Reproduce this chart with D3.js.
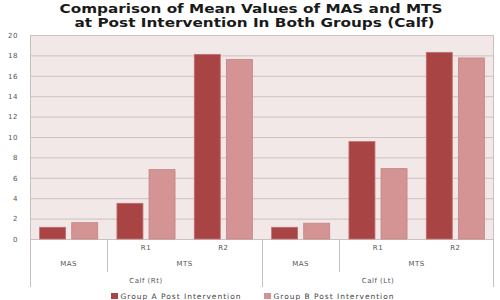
<!DOCTYPE html>
<html>
<head>
<meta charset="utf-8">
<script src="https://cdn.jsdelivr.net/npm/d3@7"></script>
<style>
  html, body { margin: 0; padding: 0; background: #fff; }
  text { font-family: "DejaVu Sans", Verdana, sans-serif; }
</style>
</head>
<body>
<div id="chart"></div>
<script>
// chart values
const categories = ["MAS", "R1", "R2", "MAS", "R1", "R2"];
const measureLabels = ["MAS", "MTS", "MAS", "MTS"];
const measureSpans = [[0, 1], [1, 3], [3, 4], [4, 6]];
const sideLabels = ["Calf (Rt)", "Calf (Lt)"];
const sideSpans = [[0, 3], [3, 6]];
const groupA = [1.15, 3.5, 18.1, 1.15, 9.55, 18.3];
const groupB = [1.6, 6.8, 17.6, 1.55, 6.9, 17.75];
const seriesNames = ["Group A Post Intervention", "Group B Post Intervention"];
const yTicks = [0, 2, 4, 6, 8, 10, 12, 14, 16, 18, 20];

const W = 500, H = 300;
const margin = { top: 35, right: 6, bottom: 61, left: 30 };
const width = W - margin.left - margin.right;
const height = H - margin.top - margin.bottom;

const colors = ["#a94444", "#d49494"];

const svgRoot = d3.select("#chart").append("svg")
  .attr("width", W).attr("height", H);

// title (two lines, stretched to the reference width)
const titleLines = [
  { text: "Comparison of Mean Values of MAS and MTS", x: 251, y: 13, len: 383 },
  { text: "at Post Intervention In Both Groups (Calf)", x: 254.5, y: 27, len: 360 }
];
svgRoot.append("g")
  .selectAll("text")
  .data(titleLines)
  .join("text")
  .attr("x", d => d.x).attr("y", d => d.y)
  .attr("text-anchor", "middle")
  .attr("font-size", 13)
  .attr("font-weight", "bold")
  .attr("fill", "#1a1a1a")
  .attr("textLength", d => d.len)
  .attr("lengthAdjust", "spacingAndGlyphs")
  .text(d => d.text);

const svg = svgRoot.append("g")
  .attr("transform", `translate(${margin.left},${margin.top})`);

const x0 = d3.scaleBand()
  .domain(d3.range(categories.length))
  .range([0, width])
  .padding(0);

const x1 = d3.scaleBand()
  .domain([0, 1])
  .range([0, x0.bandwidth()])
  .paddingInner(0.19)
  .paddingOuter(0.3);

const y = d3.scaleLinear().domain([0, 20]).range([height, 0]);

// plot background
svg.append("rect")
  .attr("width", width).attr("height", height)
  .attr("fill", "#f2e8e8");

// gridlines
svg.append("g")
  .selectAll("line")
  .data(yTicks)
  .join("line")
  .attr("x1", 0).attr("x2", width)
  .attr("y1", d => y(d) + 0.5).attr("y2", d => y(d) + 0.5)
  .attr("stroke", "#cdc1c1")
  .attr("stroke-width", 1);

// y axis labels
svg.append("g")
  .attr("class", "y-axis")
  .call(d3.axisLeft(y).tickValues(yTicks).tickSize(0).tickPadding(12))
  .call(g => g.select(".domain").remove())
  .call(g => g.selectAll("text")
    .attr("font-family", "DejaVu Sans, sans-serif")
    .attr("font-size", 7)
    .attr("letter-spacing", 0.5)
    .attr("fill", "#555"));

// bars
const rows = categories.map((c, i) => [groupA[i], groupB[i]]);
const groups = svg.selectAll(".cat")
  .data(rows)
  .join("g")
  .attr("class", "cat")
  .attr("transform", (d, i) => `translate(${x0(i)},0)`);

groups.selectAll("rect")
  .data(d => d.map((v, k) => ({ v, k })))
  .join("rect")
  .attr("x", d => x1(d.k))
  .attr("y", d => y(d.v))
  .attr("width", x1.bandwidth())
  .attr("height", d => height - y(d.v))
  .attr("fill", d => colors[d.k])
  .attr("stroke", d => d.k === 0 ? "#c07070" : "#c48282")
  .attr("stroke-width", 0.8);

// axis frame lines
const frame = svg.append("g").attr("stroke", "#c8c0c0").attr("stroke-width", 1);
frame.append("line")
  .attr("x1", 0.5).attr("x2", 0.5).attr("y1", 0).attr("y2", height + 48);
frame.append("line")
  .attr("x1", width - 0.5).attr("x2", width - 0.5).attr("y1", 0).attr("y2", height + 48);

// category separators in the axis area
measureSpans.forEach(s => {
  if (s[0] === 0 || s[0] === 3) return;
  frame.append("line")
    .attr("x1", Math.round(x0(s[0])) + 0.5).attr("x2", Math.round(x0(s[0])) + 0.5)
    .attr("y1", height).attr("y2", height + 33);
});
frame.append("line")
  .attr("x1", Math.round(x0(3)) + 0.5).attr("x2", Math.round(x0(3)) + 0.5)
  .attr("y1", height).attr("y2", height + 48);

const axisText = g => g
  .attr("text-anchor", "middle")
  .attr("font-size", 7)
  .attr("letter-spacing", 0.5)
  .attr("fill", "#555");

// level 1 labels (R1, R2)
svg.append("g")
  .selectAll("text")
  .data(categories.map((c, i) => ({ c, i })).filter(d => d.c !== "MAS"))
  .join("text")
  .attr("x", d => x0(d.i) + x0.bandwidth() / 2)
  .attr("y", height + 11)
  .call(axisText)
  .text(d => d.c);

// level 2 labels (MAS, MTS)
svg.append("g")
  .selectAll("text")
  .data(measureSpans)
  .join("text")
  .attr("x", d => (x0(d[0]) + x0(d[1] - 1) + x0.bandwidth()) / 2)
  .attr("y", height + 27)
  .call(axisText)
  .text((d, i) => measureLabels[i]);

// level 3 labels (Calf sides)
svg.append("g")
  .selectAll("text")
  .data(sideSpans)
  .join("text")
  .attr("x", d => (x0(d[0]) + x0(d[1] - 1) + x0.bandwidth()) / 2)
  .attr("y", height + 44)
  .call(axisText)
  .text((d, i) => sideLabels[i]);

// legend
const legend = svgRoot.append("g").attr("transform", "translate(111,292)");
const legendX = [0, 153];
seriesNames.forEach((name, k) => {
  const item = legend.append("g").attr("transform", `translate(${legendX[k]},0)`);
  item.append("rect")
    .attr("y", 1)
    .attr("width", 7).attr("height", 6)
    .attr("fill", colors[k]);
  item.append("text")
    .attr("x", 9.5).attr("y", 6.8)
    .attr("font-size", 7.5)
    .attr("fill", "#444")
    .attr("textLength", 120)
    .attr("lengthAdjust", "spacing")
    .text(name);
});
</script>
</body>
</html>
